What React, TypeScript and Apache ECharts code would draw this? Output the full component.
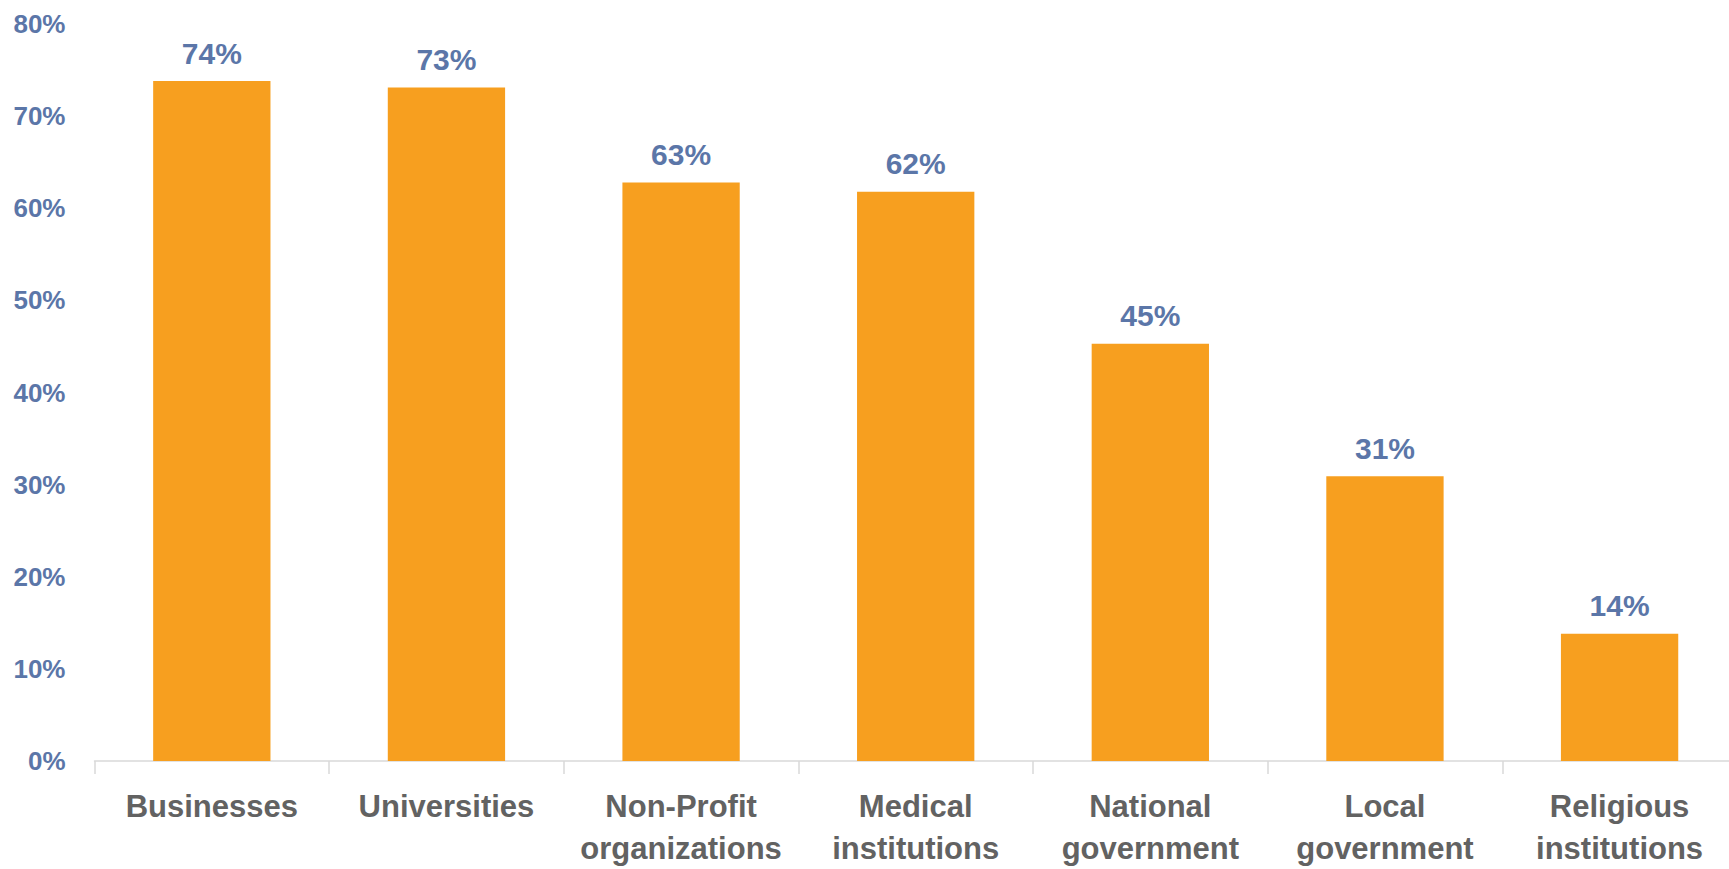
import React, { useEffect, useRef } from "react";
import * as echarts from "echarts";

const categories = [
  "Businesses",
  "Universities",
  "Non-Profit\norganizations",
  "Medical\ninstitutions",
  "National\ngovernment",
  "Local\ngovernment",
  "Religious\ninstitutions",
];
const values = [73.8, 73.1, 62.8, 61.8, 45.3, 30.9, 13.8];
const yTicks = { min: 0, max: 80, interval: 10 };

const FONT = "'Liberation Sans Narrow', 'Arial Narrow', 'Liberation Sans', Arial, sans-serif";

export default function App() {
  const ref = useRef<HTMLDivElement>(null);
  useEffect(() => {
    if (!ref.current) return;
    const chart = echarts.init(ref.current, null, { renderer: "svg" });
    chart.setOption({
      animation: false,
      backgroundColor: "#ffffff",
      grid: { left: 94.5, top: 24, width: 1642.4, bottom: 108, containLabel: false },
      xAxis: {
        type: "category",
        data: categories,
        axisLine: { show: true, lineStyle: { color: "#d9d9d9", width: 1.5 } },
        axisTick: { show: true, length: 13, lineStyle: { color: "#d9d9d9", width: 1.5 } },
        axisLabel: {
          interval: 0,
          margin: 24,
          color: "#626262",
          fontFamily: FONT,
          fontWeight: "bold",
          fontSize: 31,
          lineHeight: 42,
        },
      },
      yAxis: {
        type: "value",
        min: yTicks.min,
        max: yTicks.max,
        interval: yTicks.interval,
        axisLine: { show: false },
        axisTick: { show: false },
        splitLine: { show: false },
        axisLabel: {
          margin: 29,
          color: "#5B76A8",
          fontFamily: FONT,
          fontWeight: "bold",
          fontSize: 26,
          formatter: (v: number) => v + "%",
        },
      },
      series: [
        {
          type: "bar",
          data: values,
          barWidth: "50%",
          itemStyle: { color: "#F79F1F" },
          label: {
            show: true,
            position: "top",
            distance: 13,
            color: "#5B76A8",
            fontFamily: FONT,
            fontWeight: "bold",
            fontSize: 30,
            formatter: (p: any) => Math.round(p.value) + "%",
          },
        },
      ],
    });
    return () => chart.dispose();
  }, []);
  return (
    <div
      style={{
        position: "absolute",
        left: 0,
        top: 0,
        width: 1729,
        height: 869,
        overflow: "hidden",
        background: "#ffffff",
      }}
    >
      <div ref={ref} style={{ width: 1745, height: 869 }} />
    </div>
  );
}
